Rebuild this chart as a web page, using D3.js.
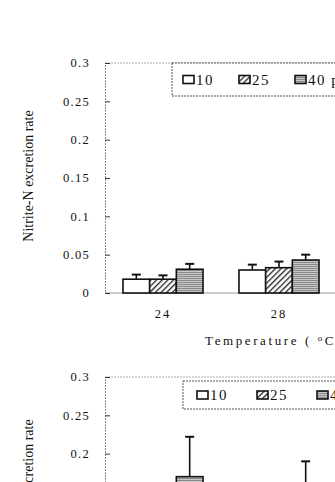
<!DOCTYPE html>
<html>
<head>
<meta charset="utf-8">
<script src="https://cdn.jsdelivr.net/npm/d3@7"></script>
<style>
  html, body { margin: 0; padding: 0; background: #fff; overflow: hidden; }
  svg { display: block; }
  text { font-family: "Liberation Serif", "DejaVu Serif", serif; fill: #111; }
</style>
</head>
<body>
<svg id="chart"></svg>
<script>
// categories and series
const temps = ["24", "28", "32"];
const seriesNames = ["10", "25", "40 ppt"];
const yTicks = [0, 0.05, 0.1, 0.15, 0.2, 0.25, 0.3];
const yTickLabels = ["0", "0.05", "0.1", "0.15", "0.2", "0.25", "0.3"];

// upper panel (only 24 and 28 are visible in the picture)
const top10 = [0.018, 0.030];
const top25 = [0.018, 0.033];
const top40 = [0.031, 0.043];
const top10Err = [0.006, 0.007];
const top25Err = [0.005, 0.008];
const top40Err = [0.007, 0.007];

// lower panel (mostly cut off at the bottom)
const low10 = [0.09, 0.10];
const low25 = [0.11, 0.12];
const low40 = [0.170, 0.150];
const low10Err = [0.02, 0.02];
const low25Err = [0.02, 0.02];
const low40Err = [0.052, 0.040];

const W = 335, H = 482;
const svg = d3.select("#chart").attr("width", W).attr("height", H);

// patterns
const defs = svg.append("defs");
const hatch = defs.append("pattern").attr("id", "hatch")
  .attr("patternUnits", "userSpaceOnUse").attr("width", 4).attr("height", 4)
  .attr("patternTransform", "rotate(45)");
hatch.append("rect").attr("width", 4).attr("height", 4).attr("fill", "#fff");
hatch.append("rect").attr("width", 1.3).attr("height", 4).attr("fill", "#222");
const dots = defs.append("pattern").attr("id", "dots")
  .attr("patternUnits", "userSpaceOnUse").attr("width", 2).attr("height", 2);
dots.append("rect").attr("width", 2).attr("height", 2).attr("fill", "#c8c8c8");
dots.append("rect").attr("width", 2).attr("height", 1).attr("fill", "#8a8a8a");

const fills = ["#fff", "url(#hatch)", "url(#dots)"];

function drawPanel(p) {
  const g = svg.append("g");
  const y = d3.scaleLinear().domain([0, 0.3]).range([p.y0, p.y0 - 230]);
  const x = d3.scaleBand().domain(temps).range([105, 453])
    .paddingInner(0.31).paddingOuter(0.155);
  const xs = d3.scaleBand().domain(seriesNames).range([0, x.bandwidth()]);

  // frame: top border and baseline
  g.append("line").attr("x1", 105).attr("x2", 460)
    .attr("y1", y(0.3)).attr("y2", y(0.3))
    .attr("stroke", "#aaa").attr("stroke-dasharray", "2,1");
  g.append("line").attr("x1", 105).attr("x2", 460)
    .attr("y1", y(0)).attr("y2", y(0)).attr("stroke", "#999");

  // y axis, ticks inside
  const yAxis = d3.axisRight(y).tickValues(yTicks).tickSize(5).tickFormat("");
  const ya = g.append("g").attr("transform", "translate(105,0)").call(yAxis);
  ya.select(".domain").attr("stroke", "#888").attr("stroke-dasharray", "2,1");
  ya.selectAll(".tick line").attr("stroke", "#333");
  g.selectAll(".ylab").data(yTicks).enter().append("text")
    .attr("x", 90).attr("y", d => y(d)).attr("dy", "0.35em")
    .attr("text-anchor", "end").style("font-size", "12.5px")
    .style("letter-spacing", "1.3px")
    .text((d, i) => yTickLabels[i]);

  // x tick labels
  g.selectAll(".xlab").data(temps).enter().append("text")
    .attr("x", d => x(d) + x.bandwidth() / 2).attr("y", y(0) + 21)
    .attr("dy", "0.35em").attr("text-anchor", "middle")
    .style("font-size", "12.5px").style("letter-spacing", "2px")
    .text(d => d);

  // bars
  p.vals.forEach((vals, si) => {
    vals.forEach((v, ci) => {
      const cx = x(temps[ci]) + xs(seriesNames[si]);
      const bw = xs.bandwidth();
      g.append("rect").attr("x", cx).attr("y", y(v))
        .attr("width", bw).attr("height", y(0) - y(v))
        .attr("fill", fills[si]).attr("stroke", "#111").attr("stroke-width", 1.6);
      const e = p.errs[si][ci];
      const mx = cx + bw / 2;
      g.append("line").attr("x1", mx).attr("x2", mx)
        .attr("y1", y(v)).attr("y2", y(v + e))
        .attr("stroke", "#111").attr("stroke-width", 1.6);
      g.append("line").attr("x1", mx - 4.5).attr("x2", mx + 4.5)
        .attr("y1", y(v + e)).attr("y2", y(v + e))
        .attr("stroke", "#111").attr("stroke-width", 2);
    });
  });

  // legend
  const lg = g.append("g").attr("transform", `translate(${p.legX},${p.legY})`);
  lg.append("rect").attr("width", 220).attr("height", p.legH)
    .attr("fill", "#fff").attr("stroke", "#555").attr("stroke-width", 1)
    .attr("stroke-dasharray", "2,1");
  seriesNames.forEach((s, i) => {
    const ix = p.legPad + i * p.legStep;
    lg.append("rect").attr("x", ix).attr("y", p.legH / 2 - 4)
      .attr("width", 11).attr("height", 8)
      .attr("fill", fills[i]).attr("stroke", "#111").attr("stroke-width", 1.6);
    lg.append("text").attr("x", ix + 13).attr("y", p.legH / 2)
      .attr("dy", "0.35em").style("font-size", "15px")
      .style("letter-spacing", "1.5px").text(s);
  });

  // y title
  g.append("text")
    .attr("transform", `translate(33,${p.titleY}) rotate(-90)`)
    .attr("text-anchor", "middle").style("font-size", "14px")
    .text("Nitrite-N excretion rate");

  return { x, y };
}

drawPanel({
  y0: 293, vals: [top10, top25, top40], errs: [top10Err, top25Err, top40Err],
  legX: 172, legY: 63, legH: 33, legPad: 11, legStep: 56, titleY: 176
});

svg.append("text").attr("x", 205).attr("y", 340).attr("dy", "0.35em")
  .style("font-size", "13px").style("letter-spacing", "2.6px")
  .html("Temperature ( <tspan dy='-4' font-size='9px'>o</tspan><tspan dy='4'>C )</tspan>");

drawPanel({
  y0: 607, vals: [low10, low25, low40], errs: [low10Err, low25Err, low40Err],
  legX: 183, legY: 381, legH: 28, legPad: 14, legStep: 60, titleY: 485
});
</script>
</body>
</html>
